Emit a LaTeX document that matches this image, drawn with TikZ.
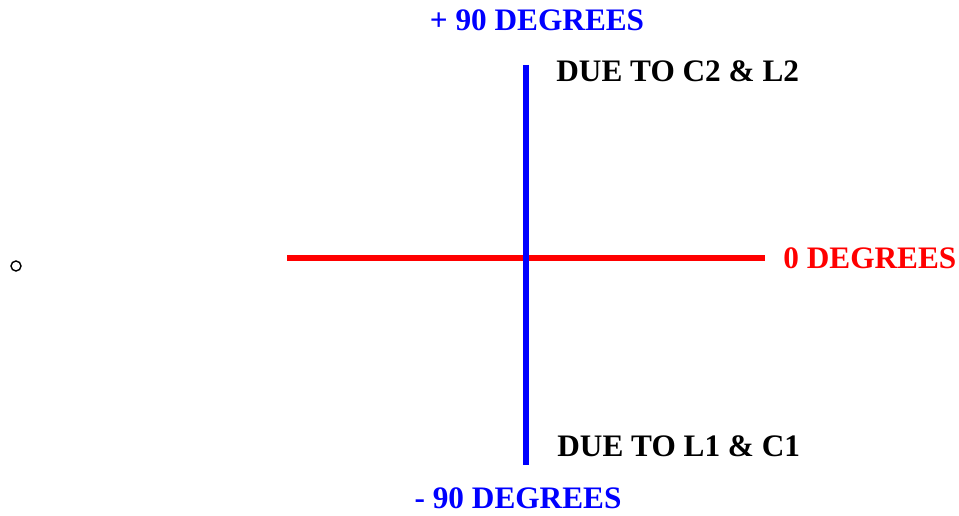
\documentclass[tikz,border=0pt]{standalone}
\usepackage{fontspec}
\setmainfont{Liberation Serif}
\usetikzlibrary{positioning}

\tikzset{
  lbl/.style={font=\bfseries\fontsize{17.8}{20}\selectfont, inner sep=0pt},
  axis/.style={line width=3pt}
}

\begin{document}
\begin{tikzpicture}
  \useasboundingbox (0,0) rectangle (19.18,10.3);

  % End points of the two lines
  \coordinate (top) at (10.52, 9.0);
  \coordinate (bot) at (10.52, 1.0);
  \coordinate (lft) at (5.74, 5.14);
  \coordinate (rgt) at (15.3, 5.14);

  % Red line (0 degrees)
  \draw[axis, red] (lft) -- (rgt);
  \node[lbl, red, anchor=west] (zero) at (15.66, 5.14) {0 DEGREES};

  % Blue line (+/- 90 degrees)
  \draw[axis, blue] (top) -- (bot);
  \node[lbl, blue] (plus) at (10.74, 9.9) {+ 90 DEGREES};
  \node[lbl, blue] (minus) at (10.36, 0.34) {- 90 DEGREES};

  % Labels beside the blue line
  \node[lbl, anchor=west] (upper) at (11.12, 8.88) {DUE TO C2 \& L2};
  \node[lbl, anchor=west] (lower) at (11.14, 1.38) {DUE TO L1 \& C1};

  % Small circle on the left
  \node[draw, circle, inner sep=0pt, minimum size=0.2cm, line width=0.8pt] (dot) at (0.32, 4.98) {};
\end{tikzpicture}
\end{document}
